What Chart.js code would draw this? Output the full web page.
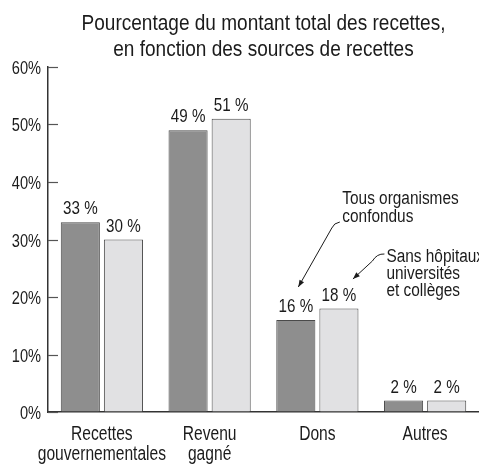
<!DOCTYPE html>
<html lang="fr">
<head>
<meta charset="utf-8">
<title>Pourcentage du montant total des recettes</title>
<script src="https://cdn.jsdelivr.net/npm/chart.js@4"></script>
<style>
  html, body { margin: 0; padding: 0; background: #ffffff; }
  #wrap { width: 479px; height: 464px; position: relative; }
</style>
</head>
<body>
<div id="wrap"><canvas id="chartRecettes"></canvas></div>
<script>
  // Données
  const categories = [["Recettes", "gouvernementales"], ["Revenu", "gagné"], ["Dons"], ["Autres"]];
  const tousOrganismes = [33, 49, 16, 2];
  const sansHopitaux = [30, 51, 18, 2];
  const yTicks = [0, 10, 20, 30, 40, 50, 60];
  const titleLines = ["Pourcentage du montant total des recettes,", "en fonction des sources de recettes"];
  const noteTous = ["Tous organismes", "confondus"];
  const noteSans = ["Sans hôpitaux", "universités", "et collèges"];

  const FONT = "'Liberation Sans', Arial, Helvetica, sans-serif";
  const INK = "#1b1b1b";
  const EDGE = "#4a4a4a";

  Chart.defaults.font.family = FONT;
  Chart.defaults.color = INK;

  // texte "condensé" façon Helvetica Narrow : on comprime horizontalement
  function narrowText(ctx, text, x, y, size, align, sx) {
    ctx.save();
    ctx.translate(x, y);
    ctx.scale(sx, 1);
    ctx.font = size + "px " + FONT;
    ctx.textAlign = align;
    ctx.textBaseline = "alphabetic";
    ctx.fillStyle = INK;
    ctx.fillText(text, 0, 0);
    ctx.restore();
  }

  /* ── titre, graduations, valeurs et annotations ── */
  const extras = {
    id: "extras",
    afterDraw(chart) {
      const ctx = chart.ctx;
      const xs = chart.scales.x;
      const ys = chart.scales.y;
      const area = chart.chartArea;

      ctx.save();
      // titre centré sur la zone du graphique
      const cx = (area.left + area.right) / 2;
      titleLines.forEach((t, k) => narrowText(ctx, t, cx, 30 + k * 26, 22, "center", 0.865));

      // graduations vers l'intérieur + libellés
      ctx.strokeStyle = "#555";
      ctx.lineWidth = 1.2;
      yTicks.forEach((v) => {
        const py = Math.round(ys.getPixelForValue(v)) + 0.5;
        ctx.beginPath();
        ctx.moveTo(area.left, py);
        ctx.lineTo(area.left + 10, py);
        ctx.stroke();
        narrowText(ctx, v + "%", area.left - 7, py + 6.5, 18.5, "right", 0.79);
      });

      // catégories sous l'axe
      categories.forEach((lines, i) => {
        const px = xs.getPixelForValue(i);
        lines.forEach((t, k) => narrowText(ctx, t, px, area.bottom + 28 + k * 20, 20, "center", 0.78));
      });

      // étiquettes "xx %"
      chart.data.datasets.forEach((ds, i) => {
        chart.getDatasetMeta(i).data.forEach((bar, j) => {
          narrowText(ctx, ds.data[j] + " %", bar.x, bar.y - 8, 19, "center", 0.8);
        });
      });

      // annotations sur "Dons"
      const dark = chart.getDatasetMeta(0).data[2];
      const light = chart.getDatasetMeta(1).data[2];
      noteTous.forEach((t, k) => narrowText(ctx, t, dark.x + 46.5, dark.y - 116 + k * 18, 18, "left", 0.855));
      noteSans.forEach((t, k) => narrowText(ctx, t, light.x + 47.5, light.y - 46.5 + k * 17, 18, "left", 0.855));

      const arrow = (pts, tip) => {
        ctx.strokeStyle = INK;
        ctx.lineWidth = 1;
        ctx.beginPath();
        ctx.moveTo(pts[0][0], pts[0][1]);
        ctx.quadraticCurveTo(pts[1][0], pts[1][1], pts[2][0], pts[2][1]);
        ctx.lineTo(tip[0], tip[1]);
        ctx.stroke();
        const a = Math.atan2(tip[1] - pts[2][1], tip[0] - pts[2][0]);
        const len = 7, half = 2.6;
        ctx.fillStyle = INK;
        ctx.beginPath();
        ctx.moveTo(tip[0], tip[1]);
        ctx.lineTo(tip[0] - len * Math.cos(a) + half * Math.sin(a), tip[1] - len * Math.sin(a) - half * Math.cos(a));
        ctx.lineTo(tip[0] - len * Math.cos(a) - half * Math.sin(a), tip[1] - len * Math.sin(a) + half * Math.cos(a));
        ctx.closePath();
        ctx.fill();
      };
      arrow(
        [[dark.x + 44, dark.y - 98], [dark.x + 38, dark.y - 97], [dark.x + 36, dark.y - 92]],
        [dark.x + 2.5, dark.y - 33]
      );
      arrow(
        [[light.x + 45.5, light.y - 54.5], [light.x + 38, light.y - 55], [light.x + 33.5, light.y - 47.5]],
        [light.x + 14, light.y - 29.5]
      );
      ctx.restore();
    },
  };

  new Chart(document.getElementById("chartRecettes"), {
    type: "bar",
    data: {
      labels: categories,
      datasets: [
        {
          label: "Tous organismes confondus",
          data: tousOrganismes,
          backgroundColor: "#8e8e8e",
          borderColor: EDGE,
          borderWidth: 1,
          barPercentage: 0.907,
          categoryPercentage: 0.8,
        },
        {
          label: "Sans hôpitaux, universités et collèges",
          data: sansHopitaux,
          backgroundColor: "#e1e1e3",
          borderColor: EDGE,
          borderWidth: 1,
          barPercentage: 0.907,
          categoryPercentage: 0.8,
        },
      ],
    },
    options: {
      responsive: true,
      maintainAspectRatio: false,
      animation: false,
      layout: { padding: { top: 67, right: 0, bottom: 0, left: 0 } },
      plugins: {
        legend: { display: false },
        tooltip: { enabled: false },
        title: { display: false },
      },
      scales: {
        x: {
          afterFit: (s) => { s.height = 52; },
          grid: { display: false, drawTicks: false },
          border: { display: true, color: "#333", width: 1.5 },
          ticks: { display: false },
        },
        y: {
          min: 0,
          max: 60,
          afterFit: (s) => { s.width = 48; },
          grid: { drawOnChartArea: false, drawTicks: false },
          border: { display: true, color: "#333", width: 1.5 },
          ticks: { display: false, stepSize: 10 },
        },
      },
    },
    plugins: [extras],
  });
</script>
</body>
</html>
